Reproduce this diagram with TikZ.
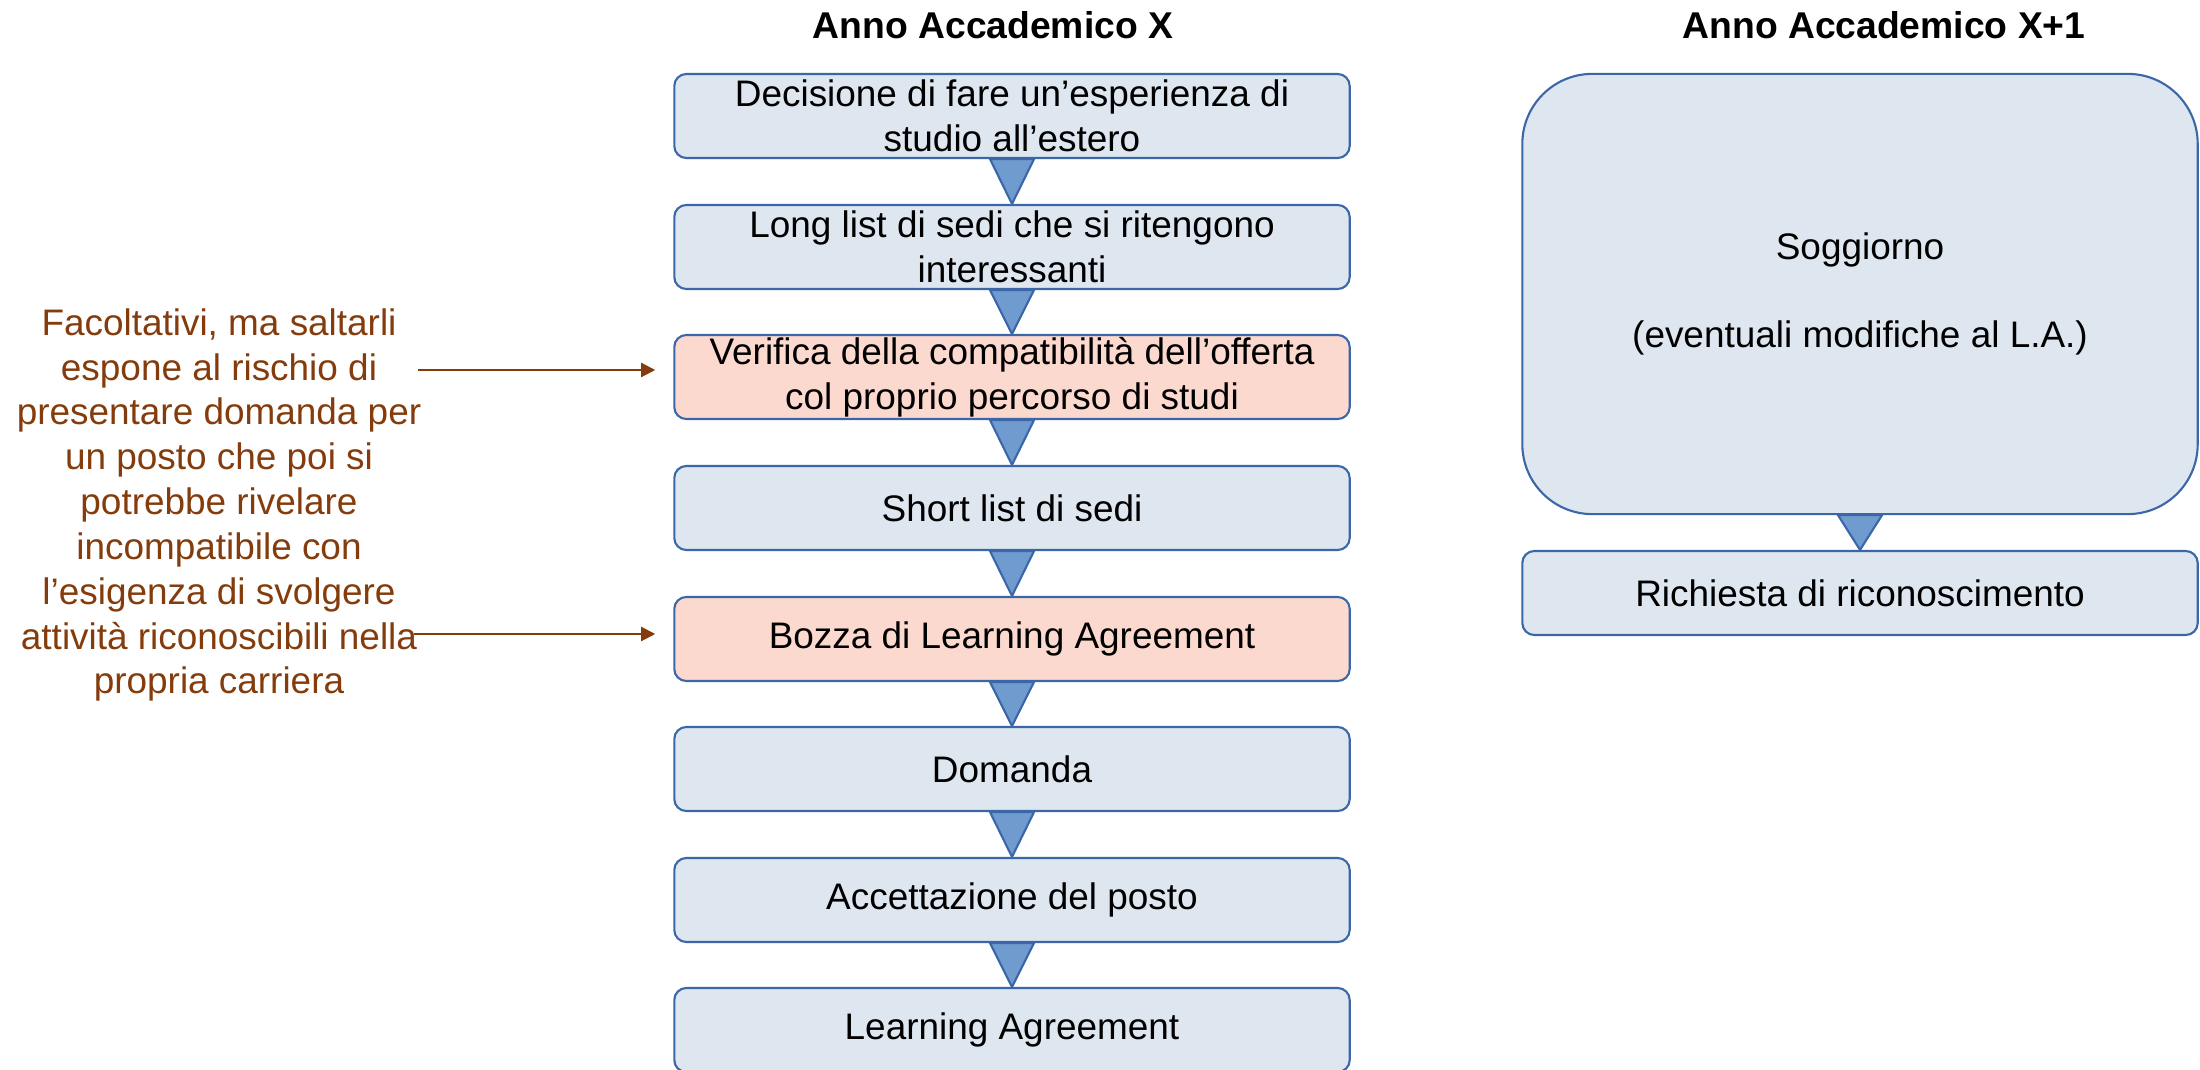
\documentclass[tikz,border=0pt]{standalone}
\usepackage{fontspec}
\setmainfont{Liberation Sans}
\usepackage{xcolor}
\usepackage{tikz}
\usetikzlibrary{shapes, arrows.meta, positioning, calc}

\definecolor{boxblue}{HTML}{DEE6EF}
\definecolor{boxpink}{HTML}{FCD9CE}
\definecolor{edgeblue}{HTML}{3B67A8}
\definecolor{tipblue}{HTML}{6F9BCF}
\definecolor{notebrown}{HTML}{843C0C}

\begin{document}
\begin{tikzpicture}
  [
    x=0.01cm, y=-0.01cm,
    Stage/.style={rectangle, rounded corners=1.2mm, draw=edgeblue, fill=boxblue, line width=0.6pt, minimum width=6.75cm, minimum height=0.84cm, inner sep=0pt, align=center, font=\fontsize{10.5}{12.8}\selectfont},
    Pink/.style={Stage, fill=boxpink},
    Stay/.style={Stage, rounded corners=7mm, minimum height=4.4cm, font=\fontsize{10.5}{12.5}\selectfont},
    Title/.style={font=\fontsize{10.6}{13}\selectfont\bfseries},
    Note/.style={align=center, text=notebrown, font=\fontsize{10.5}{12.75}\selectfont},
    Tip/.style={draw=edgeblue, fill=tipblue, line width=0.6pt},
    Pointer/.style={draw=notebrown, line width=0.6pt, -{Triangle[length=1.4mm, width=1.4mm]}, shorten >=1.8mm}
  ]
  \useasboundingbox (0, 0) rectangle (2200, 1070);

  % Titles
  \node[Title] (t0) at(993, 25) {Anno Accademico X};
  \node[Title] (t1) at(1884, 25) {Anno Accademico X+1};

  % Nodes
  \node[Stage] (v0) at(1012, 116) {Decisione di fare un’esperienza di\\studio all’estero};
  \node[Stage] (v1) at(1012, 247) {Long list di sedi che si ritengono\\interessanti};
  \node[Pink]  (v2) at(1012, 377) {Verifica della compatibilità dell’offerta\\col proprio percorso di studi};
  \node[Stage] (v3) at(1012, 508) {Short list di sedi};
  \node[Pink]  (v4) at(1012, 639) {Bozza di Learning Agreement};
  \node[Stage] (v5) at(1012, 769) {Domanda};
  \node[Stage] (v6) at(1012, 900) {Accettazione del posto};
  \node[Stage] (v7) at(1012, 1030) {Learning Agreement};

  \node[Stay]  (w0) at(1860, 294) {Soggiorno\\[12.5pt](eventuali modifiche al L.A.)};
  \node[Stage] (w1) at(1860, 593) {Richiesta di riconoscimento};

  \node[Note] (n0) at(219, 505) {Facoltativi, ma saltarli\\espone al rischio di\\presentare domanda per\\un posto che poi si\\potrebbe rivelare\\incompatibile con\\l’esigenza di svolgere\\attività riconoscibili nella\\propria carriera};
  \coordinate (n1) at(418, 370);
  \coordinate (n2) at(414, 634);

  % Lines
  \path [Tip] ($(v0.south)+(-22, 0)$) -- ($(v0.south)+(22, 0)$) -- (v1.north) -- cycle;
  \path [Tip] ($(v1.south)+(-22, 0)$) -- ($(v1.south)+(22, 0)$) -- (v2.north) -- cycle;
  \path [Tip] ($(v2.south)+(-22, 0)$) -- ($(v2.south)+(22, 0)$) -- (v3.north) -- cycle;
  \path [Tip] ($(v3.south)+(-22, 0)$) -- ($(v3.south)+(22, 0)$) -- (v4.north) -- cycle;
  \path [Tip] ($(v4.south)+(-22, 0)$) -- ($(v4.south)+(22, 0)$) -- (v5.north) -- cycle;
  \path [Tip] ($(v5.south)+(-22, 0)$) -- ($(v5.south)+(22, 0)$) -- (v6.north) -- cycle;
  \path [Tip] ($(v6.south)+(-22, 0)$) -- ($(v6.south)+(22, 0)$) -- (v7.north) -- cycle;
  \path [Tip] ($(w0.south)+(-22, 0)$) -- ($(w0.south)+(22, 0)$) -- (w1.north) -- cycle;

  \path [Pointer] (n1) -- (n1 -| v2.west);
  \path [Pointer] (n2) -- (n2 -| v4.west);

\end{tikzpicture}
\end{document}
